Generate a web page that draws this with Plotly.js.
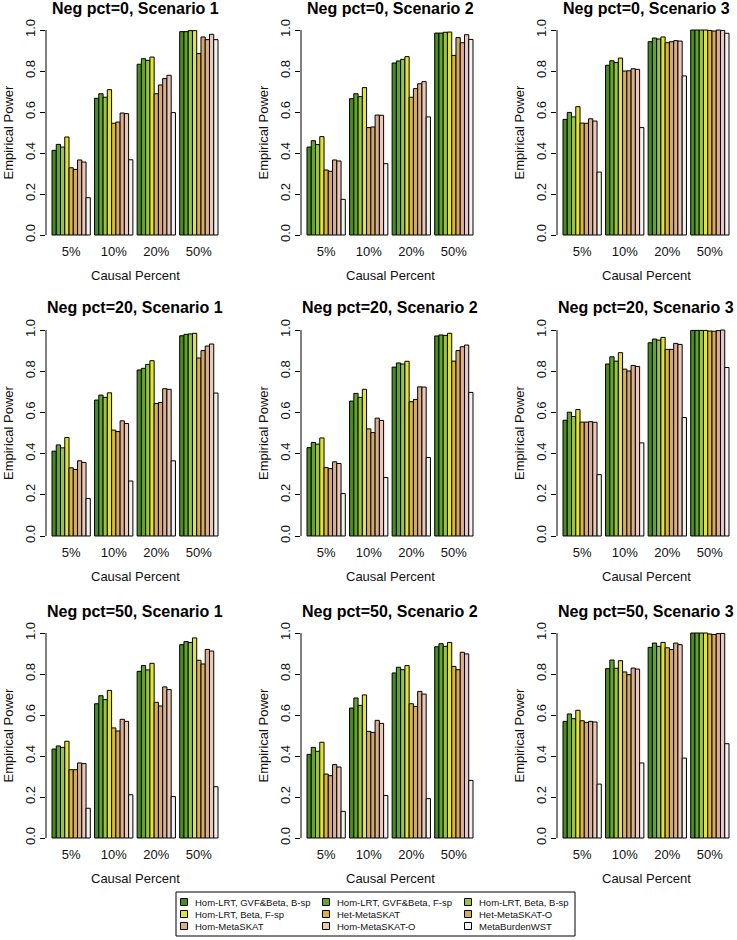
<!DOCTYPE html>
<html><head><meta charset="utf-8">
<script src="https://cdn.plot.ly/plotly-3.0.1.min.js"></script>
<style>html,body{margin:0;padding:0;background:#fff}</style>
</head><body><div id="chart" style="width:737px;height:940px"></div>
<script>
// ---------- data ----------
const causalPercent = ['5%', '10%', '20%', '50%'];
const methods = [
  'Hom-LRT, GVF&Beta, B-sp', 'Hom-LRT, GVF&Beta, F-sp', 'Hom-LRT, Beta, B-sp',
  'Hom-LRT, Beta, F-sp', 'Het-MetaSKAT', 'Het-MetaSKAT-O',
  'Hom-MetaSKAT', 'Hom-MetaSKAT-O', 'MetaBurdenWST'
];
const negPct = [0, 20, 50];
const scenarios = [1, 2, 3];

// rows = methods (same order as above), columns = causal percent
const neg0_s1 = [
  [0.413, 0.667, 0.833, 0.992], [0.442, 0.689, 0.860, 0.992], [0.429, 0.672, 0.852, 0.997],
  [0.478, 0.709, 0.868, 0.997], [0.328, 0.545, 0.689, 0.885], [0.320, 0.551, 0.732, 0.966],
  [0.366, 0.595, 0.763, 0.953], [0.356, 0.592, 0.779, 0.979], [0.182, 0.367, 0.597, 0.953]
];
const neg0_s2 = [
  [0.429, 0.665, 0.839, 0.985], [0.460, 0.689, 0.849, 0.985], [0.441, 0.675, 0.857, 0.989],
  [0.480, 0.719, 0.870, 0.990], [0.317, 0.524, 0.672, 0.876], [0.311, 0.527, 0.714, 0.963],
  [0.366, 0.585, 0.738, 0.938], [0.361, 0.584, 0.748, 0.977], [0.174, 0.348, 0.576, 0.954]
];
const neg0_s3 = [
  [0.564, 0.828, 0.943, 1.000], [0.598, 0.850, 0.961, 1.000], [0.576, 0.841, 0.956, 1.000],
  [0.626, 0.863, 0.966, 1.000], [0.546, 0.800, 0.938, 0.998], [0.545, 0.801, 0.943, 0.995],
  [0.567, 0.811, 0.948, 1.000], [0.556, 0.808, 0.946, 0.998], [0.307, 0.524, 0.776, 0.984]
];
const neg20_s1 = [
  [0.412, 0.660, 0.806, 0.972], [0.442, 0.684, 0.814, 0.979], [0.428, 0.673, 0.833, 0.981],
  [0.478, 0.695, 0.851, 0.984], [0.331, 0.514, 0.643, 0.864], [0.323, 0.507, 0.648, 0.900],
  [0.365, 0.559, 0.715, 0.922], [0.357, 0.546, 0.712, 0.932], [0.182, 0.267, 0.365, 0.694]
];
const neg20_s2 = [
  [0.429, 0.655, 0.820, 0.971], [0.454, 0.692, 0.840, 0.976], [0.446, 0.673, 0.835, 0.974],
  [0.476, 0.712, 0.848, 0.984], [0.332, 0.520, 0.652, 0.849], [0.327, 0.502, 0.663, 0.900],
  [0.360, 0.572, 0.724, 0.919], [0.352, 0.561, 0.723, 0.927], [0.206, 0.284, 0.381, 0.697]
];
const neg20_s3 = [
  [0.562, 0.835, 0.938, 0.998], [0.601, 0.870, 0.956, 0.998], [0.580, 0.849, 0.951, 0.998],
  [0.614, 0.890, 0.964, 0.998], [0.553, 0.810, 0.906, 0.995], [0.553, 0.801, 0.906, 0.994],
  [0.555, 0.828, 0.935, 0.997], [0.552, 0.823, 0.930, 1.000], [0.298, 0.452, 0.575, 0.818]
];
const neg50_s1 = [
  [0.434, 0.655, 0.813, 0.943], [0.449, 0.694, 0.841, 0.958], [0.442, 0.675, 0.820, 0.954],
  [0.472, 0.720, 0.852, 0.976], [0.333, 0.537, 0.662, 0.867], [0.333, 0.522, 0.644, 0.849],
  [0.366, 0.579, 0.737, 0.920], [0.363, 0.569, 0.724, 0.912], [0.145, 0.211, 0.202, 0.250]
];
const neg50_s2 = [
  [0.408, 0.634, 0.805, 0.933], [0.442, 0.683, 0.833, 0.948], [0.423, 0.647, 0.821, 0.935],
  [0.467, 0.698, 0.841, 0.954], [0.312, 0.520, 0.655, 0.837], [0.304, 0.515, 0.642, 0.821],
  [0.358, 0.574, 0.715, 0.906], [0.346, 0.559, 0.702, 0.898], [0.130, 0.207, 0.192, 0.281]
];
const neg50_s3 = [
  [0.569, 0.826, 0.930, 1.000], [0.605, 0.868, 0.951, 1.000], [0.582, 0.828, 0.935, 1.000],
  [0.623, 0.865, 0.954, 1.000], [0.572, 0.810, 0.928, 0.995], [0.564, 0.797, 0.919, 0.993],
  [0.569, 0.829, 0.951, 0.997], [0.566, 0.824, 0.943, 0.998], [0.263, 0.366, 0.390, 0.460]
];
const yTicks = [0, 0.2, 0.4, 0.6, 0.8, 1.0];

// ---------- styling / layout ----------
const colors = ['#4A8A24', '#62A52C', '#99C43E', '#E2E23A', '#D8B444',
                '#D6A868', '#D8AE8E', '#E9C8BA', '#F1F1F1'];
const panels = [
  [neg0_s1, neg0_s2, neg0_s3],
  [neg20_s1, neg20_s2, neg20_s3],
  [neg50_s1, neg50_s2, neg50_s3]
];
const W = 737, H = 940;
const FONT = 'Liberation Sans, Arial, Helvetica, sans-serif';
const barStart = [52, 307, 563];
const barSpan = 166;
const yZero = [235, 536, 838];
const yOne = [30, 330, 633];
const pxPerCat = barSpan / 3.9;
const axGap = 6, rightPad = 4;
const px = v => v / W, py = v => 1 - v / H;

const data = [];
const layout = {
  width: W, height: H,
  margin: {l: 0, r: 0, t: 0, b: 0},
  paper_bgcolor: '#fff', plot_bgcolor: '#fff',
  barmode: 'group', bargap: 0.1, bargroupgap: 0,
  font: {family: FONT, color: '#000'},
  showlegend: false,
  annotations: [], shapes: []
};

for (let r = 0; r < 3; r++) {
  for (let c = 0; c < 3; c++) {
    const k = r * 3 + c;
    const s = k === 0 ? '' : String(k + 1);
    const h = yZero[r] - yOne[r];
    const xl = barStart[c] - axGap, xr = barStart[c] + barSpan + rightPad;
    const yb = yZero[r] + 0.01 * h, yt = yOne[r] - 0.02 * h;
    layout['xaxis' + s] = {
      domain: [px(xl), px(xr)], anchor: 'y' + s, type: 'category',
      range: [-0.45 - axGap / pxPerCat, 3.45 + rightPad / pxPerCat],
      showgrid: false, zeroline: false, showline: false, ticks: '',
      tickfont: {size: 13, family: FONT, color: '#111'}, ticklabelstandoff: 5, fixedrange: true
    };
    layout['yaxis' + s] = {
      domain: [py(yb), py(yt)], anchor: 'x' + s, range: [-0.01, 1.02],
      tickvals: yTicks, tickformat: '.1f', tickangle: -90,
      ticks: 'outside', ticklen: 5, tickwidth: 1, tickcolor: '#000',
      showgrid: false, zeroline: false, showline: false,
      tickfont: {size: 13, family: FONT, color: '#111'}, fixedrange: true
    };
    layout.shapes.push({type: 'line', xref: 'paper', yref: 'y' + s,
      x0: px(xl), x1: px(xl), y0: 0, y1: 1, line: {color: '#000', width: 1}});
    const cx = px(barStart[c] + barSpan / 2);
    layout.annotations.push({
      text: '<b>Neg pct=' + negPct[r] + ', Scenario ' + scenarios[c] + '</b>',
      xref: 'paper', yref: 'paper', x: cx, y: py(yOne[r] - 22),
      xanchor: 'center', yanchor: 'middle', showarrow: false,
      font: {size: 16, family: FONT, color: '#000'}
    });
    layout.annotations.push({
      text: 'Causal Percent', xref: 'paper', yref: 'paper', x: cx,
      y: py(yZero[r] + 40), xanchor: 'center', yanchor: 'middle', showarrow: false,
      font: {size: 13, family: FONT, color: '#111'}
    });
    layout.annotations.push({
      text: 'Empirical Power', xref: 'paper', yref: 'paper', x: px(xl - 38),
      y: py((yZero[r] + yOne[r]) / 2), xanchor: 'center', yanchor: 'middle',
      textangle: -90, showarrow: false, font: {size: 13, family: FONT, color: '#111'}
    });
    const vals = panels[r][c];
    for (let m = 0; m < methods.length; m++) {
      data.push({
        type: 'bar', x: causalPercent, y: vals[m], name: methods[m],
        xaxis: 'x' + s, yaxis: 'y' + s, showlegend: false,
        marker: {color: colors[m], line: {color: '#000', width: 1}},
        hoverinfo: 'skip'
      });
    }
  }
}

// ---------- legend (3 columns, filled row-wise) ----------
const legLeft = 176, legTop = 892, legBottom = 936, legRight = 575;
const legColX = [184, 326, 468], legRow0 = 902, legRowStep = 12, keyHalf = 3.5;
layout.shapes.push({type: 'rect', xref: 'paper', yref: 'paper',
  x0: px(legLeft), x1: px(legRight), y0: py(legBottom), y1: py(legTop),
  line: {color: '#000', width: 1}, fillcolor: 'rgba(0,0,0,0)'});
methods.forEach((name, i) => {
  const row = Math.floor(i / 3), col = i % 3;
  const cxk = legColX[col], cyk = legRow0 + row * legRowStep;
  layout.shapes.push({type: 'rect', xref: 'paper', yref: 'paper',
    x0: px(cxk - keyHalf), x1: px(cxk + keyHalf), y0: py(cyk + keyHalf), y1: py(cyk - keyHalf),
    line: {color: '#000', width: 1}, fillcolor: colors[i]});
  layout.annotations.push({text: name, xref: 'paper', yref: 'paper',
    x: px(cxk + 9), y: py(cyk), xanchor: 'left', yanchor: 'middle', showarrow: false,
    font: {size: 9.5, family: FONT, color: '#111'}});
});

Plotly.newPlot('chart', data, layout, {staticPlot: true, displayModeBar: false});
</script>
</body></html>
